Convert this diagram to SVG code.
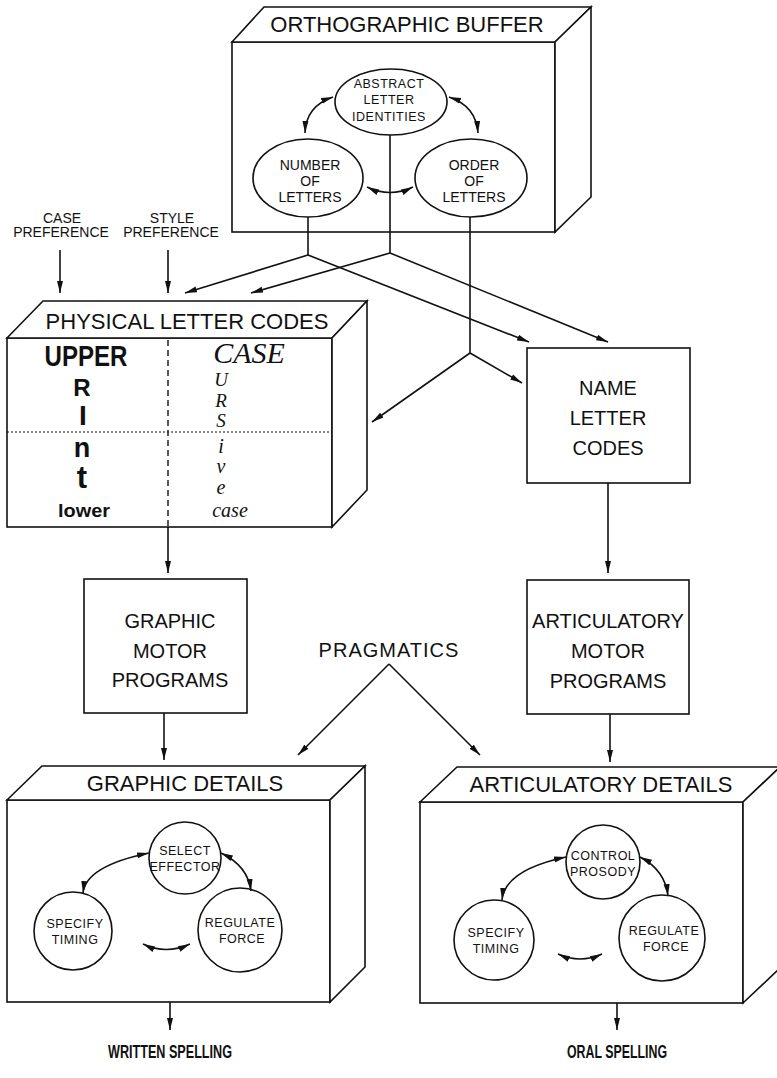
<svg xmlns="http://www.w3.org/2000/svg" width="777" height="1078" viewBox="0 0 777 1078">
<style>
.box{fill:#fff;stroke:#111;stroke-width:1.6}
.ln{fill:none;stroke:#111;stroke-width:1.6}
.ar{fill:none;stroke:#111;stroke-width:1.6;marker-end:url(#ah)}
.bi{fill:none;stroke:#111;stroke-width:1.6;marker-start:url(#ah);marker-end:url(#ah)}
.t{font-family:"Liberation Sans",Arial,sans-serif;fill:#111;text-anchor:middle}
.ttl{font-size:22px}
.lbl{font-size:20px}
.sm{font-size:14px}
.xs{font-size:12.5px;letter-spacing:0.5px}
.b{font-weight:bold}
.it{font-family:"Liberation Serif","Times New Roman",serif;font-style:italic;fill:#111;text-anchor:middle}
</style>
<defs>
<marker id="ah" viewBox="0 0 12 8" refX="12" refY="4" markerWidth="12" markerHeight="8" markerUnits="userSpaceOnUse" orient="auto-start-reverse">
<path d="M0,1 L12,4 L0,7 Z" fill="#111"/>
</marker>
</defs>
<rect width="777" height="1078" fill="#fff"/>

<g id="orthographic-buffer">
<rect class="box" x="232" y="42" width="323" height="190"/>
<path class="box" d="M232,42 L264,7 L591,7 L555,42 Z"/>
<path class="box" d="M555,42 L591,7 L591,197 L555,232 Z"/>
<text class="t ttl" x="407" y="32">ORTHOGRAPHIC BUFFER</text>
</g>
<g id="abstract-letter-identities">
<ellipse class="box" cx="391" cy="102" rx="56" ry="33"/>
<text class="t xs" x="389" y="88">ABSTRACT</text>
<text class="t xs" x="389" y="104">LETTER</text>
<text class="t xs" x="389" y="121">IDENTITIES</text>
</g>
<g id="number-of-letters">
<ellipse class="box" cx="308" cy="178" rx="55" ry="39"/>
<text class="t sm" x="310" y="170">NUMBER</text>
<text class="t sm" x="310" y="186">OF</text>
<text class="t sm" x="310" y="202">LETTERS</text>
</g>
<g id="order-of-letters">
<ellipse class="box" cx="471" cy="178" rx="56" ry="39"/>
<text class="t sm" x="474" y="170">ORDER</text>
<text class="t sm" x="474" y="186">OF</text>
<text class="t sm" x="474" y="202">LETTERS</text>
</g>

<g id="case-preference">
<text class="t sm" x="62" y="223">CASE</text>
<text class="t sm" x="61" y="237">PREFERENCE</text>
</g>
<g id="style-preference">
<text class="t sm" x="172" y="223">STYLE</text>
<text class="t sm" x="171" y="237">PREFERENCE</text>
</g>

<g id="physical-letter-codes">
<rect class="box" x="7" y="338" width="325" height="189"/>
<path class="box" d="M7,338 L43,301 L367,301 L332,338 Z"/>
<path class="box" d="M332,338 L367,301 L367,490 L332,527 Z"/>
<text class="t ttl" x="187" y="329">PHYSICAL LETTER CODES</text>
<line x1="168" y1="340" x2="168" y2="527" stroke="#111" stroke-width="1.4" stroke-dasharray="6,4"/>
<line x1="7" y1="432" x2="332" y2="432" stroke="#111" stroke-width="1.2" stroke-dasharray="2,2"/>
<text class="t b" x="86" y="366" font-size="30" textLength="83" lengthAdjust="spacingAndGlyphs">UPPER</text>
<text class="t b" x="82" y="396" font-size="24">R</text>
<text class="t b" x="83" y="425" font-size="28">I</text>
<text class="t b" x="82" y="457" font-size="27">n</text>
<text class="t b" x="82" y="488" font-size="31">t</text>
<text class="t b" x="84" y="517" font-size="19" textLength="52" lengthAdjust="spacingAndGlyphs">lower</text>
<text class="it" x="249" y="363" font-size="30">CASE</text>
<text class="it" x="221" y="386" font-size="19">U</text>
<text class="it" x="221" y="407" font-size="19">R</text>
<text class="it" x="221" y="427" font-size="19">S</text>
<text class="it" x="221" y="453" font-size="20">i</text>
<text class="it" x="221" y="473" font-size="20">v</text>
<text class="it" x="221" y="494" font-size="20">e</text>
<text class="it" x="230" y="517" font-size="20">case</text>
</g>

<g id="name-letter-codes">
<rect class="box" x="527" y="348" width="163" height="135"/>
<text class="t lbl" x="608" y="395">NAME</text>
<text class="t lbl" x="608" y="425">LETTER</text>
<text class="t lbl" x="608" y="455">CODES</text>
</g>

<g id="graphic-motor-programs">
<rect class="box" x="84" y="579" width="163" height="134"/>
<text class="t lbl" x="170" y="628">GRAPHIC</text>
<text class="t lbl" x="170" y="658">MOTOR</text>
<text class="t lbl" x="170" y="687">PROGRAMS</text>
</g>

<g id="articulatory-motor-programs">
<rect class="box" x="527" y="580" width="162" height="134"/>
<text class="t lbl" x="608" y="628">ARTICULATORY</text>
<text class="t lbl" x="608" y="658">MOTOR</text>
<text class="t lbl" x="608" y="688">PROGRAMS</text>
</g>

<g id="pragmatics">
<text class="t lbl" x="389" y="657" letter-spacing="1">PRAGMATICS</text>
</g>

<g id="graphic-details">
<rect class="box" x="7" y="800" width="323" height="202"/>
<path class="box" d="M7,800 L42,766 L365,766 L330,800 Z"/>
<path class="box" d="M330,800 L365,766 L365,967 L330,1002 Z"/>
<text class="t ttl" x="185" y="791">GRAPHIC DETAILS</text>
</g>
<g id="select-effector">
<circle class="box" cx="185" cy="858" r="36"/>
<text class="t xs" x="185" y="855">SELECT</text>
<text class="t xs" x="185" y="871">EFFECTOR</text>
</g>
<g id="g-specify-timing">
<circle class="box" cx="73" cy="931" r="39"/>
<text class="t xs" x="75" y="928">SPECIFY</text>
<text class="t xs" x="75" y="944">TIMING</text>
</g>
<g id="g-regulate-force">
<circle class="box" cx="240" cy="930" r="42"/>
<text class="t xs" x="240" y="927">REGULATE</text>
<text class="t xs" x="242" y="943">FORCE</text>
</g>

<g id="articulatory-details">
<rect class="box" x="420" y="802" width="323" height="201"/>
<path class="box" d="M420,802 L457,767 L780,767 L743,802 Z"/>
<path class="box" d="M743,802 L780,767 L780,968 L743,1003 Z"/>
<text class="t ttl" x="601" y="792">ARTICULATORY DETAILS</text>
</g>
<g id="control-prosody">
<circle class="box" cx="603" cy="862" r="37"/>
<text class="t xs" x="603" y="860">CONTROL</text>
<text class="t xs" x="603" y="876">PROSODY</text>
</g>
<g id="a-specify-timing">
<circle class="box" cx="494" cy="940" r="40"/>
<text class="t xs" x="496" y="937">SPECIFY</text>
<text class="t xs" x="496" y="953">TIMING</text>
</g>
<g id="a-regulate-force">
<circle class="box" cx="662" cy="938" r="43"/>
<text class="t xs" x="664" y="935">REGULATE</text>
<text class="t xs" x="666" y="951">FORCE</text>
</g>

<g id="written-spelling">
<text class="t b" x="170" y="1058" font-size="18" textLength="124" lengthAdjust="spacingAndGlyphs">WRITTEN SPELLING</text>
</g>
<g id="oral-spelling">
<text class="t b" x="617" y="1058" font-size="18" textLength="100" lengthAdjust="spacingAndGlyphs">ORAL SPELLING</text>
</g>

<g id="connectors">
<path class="bi" d="M333,97 Q306,106 305,133"/>
<path class="bi" d="M449,97 Q476,106 478,133"/>
<path class="bi" d="M367,187 Q390,198 413,187"/>
<path class="ln" d="M308,217 V255"/>
<path class="ln" d="M390,135 V253"/>
<path class="ln" d="M470,217 V353"/>
<path class="ar" d="M308,255 L185,293"/>
<path class="ar" d="M308,255 L529,342"/>
<path class="ar" d="M390,253 L251,293"/>
<path class="ar" d="M390,253 L608,342"/>
<path class="ar" d="M470,353 L372,422"/>
<path class="ar" d="M470,353 L522,383"/>
<path class="ar" d="M60,250 V293"/>
<path class="ar" d="M168,250 V293"/>
<path class="ar" d="M168,527 V573"/>
<path class="ar" d="M608,483 V573"/>
<path class="ar" d="M164,713 V760"/>
<path class="ar" d="M610,714 V762"/>
<path class="ar" d="M389,664 L298,755"/>
<path class="ar" d="M389,664 L480,755"/>
<path class="bi" d="M149,853 Q86,866 83,893"/>
<path class="bi" d="M221,853 Q248,866 251,891"/>
<path class="bi" d="M143,944 Q166,955 190,944"/>
<path class="bi" d="M566,857 Q505,870 502,900"/>
<path class="bi" d="M640,857 Q665,870 668,896"/>
<path class="bi" d="M558,954 Q580,964 602,954"/>
<path class="ar" d="M170,1002 V1030"/>
<path class="ar" d="M617,1003 V1030"/>
</g>
</svg>
